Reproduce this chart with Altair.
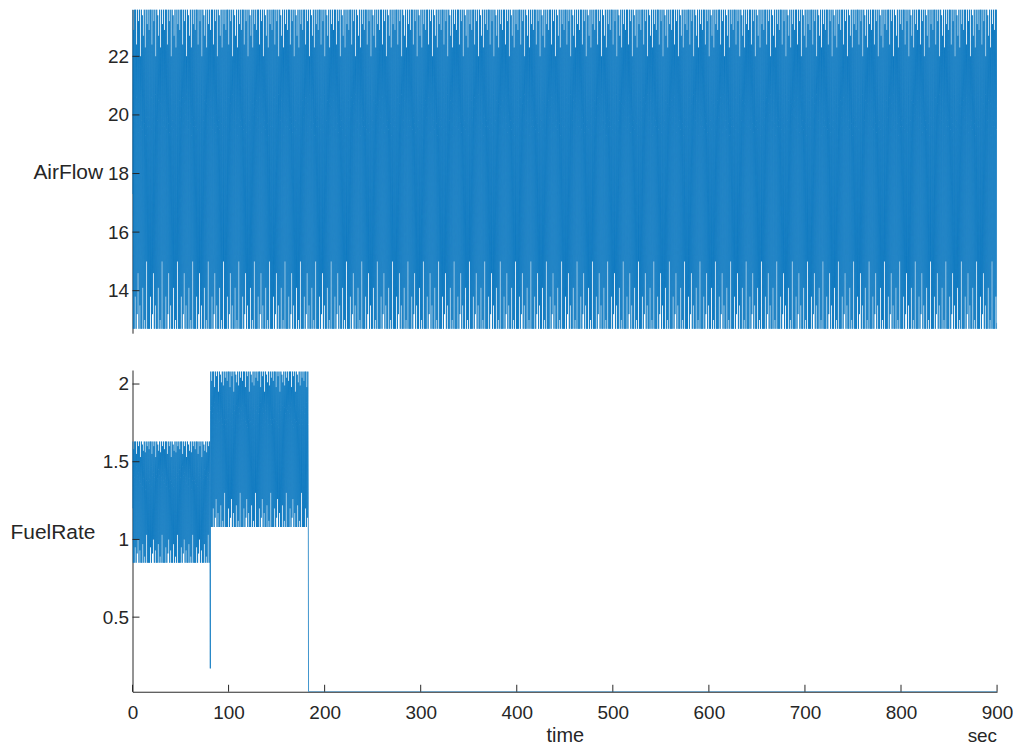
import altair as alt
import pandas as pd

# ---------------- data ----------------
TIME_STEP = 0.25          # s between samples (4 samples per ~1 s cycle)
T_END = 900

AIR_START = 17.3
AIR_END = 12.9
AIR_N_CYCLES = 900
# one cycle = [level above 20, peak, level below 20, dip]
AIR_CYCLES = [
    [20.2, 23.6, 19.8, 12.7], [20.5, 22.9, 19.6, 12.7],
    [19.9, 23.6, 20.1, 13.8], [20.3, 23.6, 19.5, 12.7],
    [20.6, 22.4, 19.9, 13.2], [20.1, 23.6, 19.7, 14.6],
    [20.4, 23.2, 19.4, 12.7], [20.0, 23.6, 20.0, 13.5],
    [20.7, 22.0, 19.6, 12.7], [20.2, 23.6, 19.8, 12.7],
    [19.8, 23.4, 19.5, 14.1], [20.5, 22.7, 20.1, 12.7],
    [20.1, 23.6, 19.7, 13.0], [20.4, 22.3, 19.3, 12.7],
    [20.0, 23.6, 19.9, 15.0], [20.3, 23.1, 19.6, 12.7],
]

FUEL_START = 1.2
FUEL_N_LOW = 81
FUEL_CYCLES_LOW = [
    [1.42, 1.63, 1.38, 0.85], [1.45, 1.58, 1.36, 0.85],
    [1.40, 1.63, 1.39, 0.95], [1.44, 1.63, 1.34, 0.85],
    [1.47, 1.55, 1.37, 0.91], [1.41, 1.63, 1.35, 1.00],
    [1.43, 1.60, 1.33, 0.85], [1.40, 1.63, 1.38, 0.93],
    [1.46, 1.53, 1.36, 0.85], [1.42, 1.63, 1.37, 0.85],
    [1.39, 1.61, 1.34, 0.97], [1.45, 1.57, 1.39, 0.85],
    [1.41, 1.63, 1.35, 0.89], [1.44, 1.56, 1.32, 0.85],
    [1.40, 1.63, 1.38, 1.03], [1.43, 1.60, 1.35, 0.85],
]
FUEL_DIP = 0.17
FUEL_N_HIGH = 102
FUEL_CYCLES_HIGH = [
    [1.83, 2.08, 1.77, 1.08], [1.86, 2.02, 1.75, 1.08],
    [1.81, 2.08, 1.78, 1.20], [1.85, 2.08, 1.73, 1.08],
    [1.88, 1.98, 1.76, 1.14], [1.82, 2.08, 1.74, 1.26],
    [1.84, 2.05, 1.72, 1.08], [1.81, 2.08, 1.77, 1.17],
    [1.87, 1.95, 1.75, 1.08], [1.83, 2.08, 1.76, 1.08],
    [1.80, 2.06, 1.73, 1.22], [1.86, 2.01, 1.78, 1.08],
    [1.82, 2.08, 1.74, 1.12], [1.85, 1.99, 1.71, 1.08],
    [1.81, 2.08, 1.77, 1.30], [1.84, 2.04, 1.74, 1.08],
]
FUEL_OFF = 0.02

X_TICKS = [0, 100, 200, 300, 400, 500, 600, 700, 800, 900]
AIR_TICKS = [14, 16, 18, 20, 22]
FUEL_TICKS = [0.5, 1, 1.5, 2]

# ---------------- build tables ----------------
air_vals = []
for c in range(AIR_N_CYCLES):
    air_vals.extend(AIR_CYCLES[c % len(AIR_CYCLES)])
air_vals[0] = AIR_START
air_t = [k * TIME_STEP for k in range(len(air_vals))]
air_t.append(T_END)
air_vals.append(AIR_END)
air_df = pd.DataFrame({"t": air_t, "v": air_vals})

fuel_vals = []
for c in range(FUEL_N_LOW):
    fuel_vals.extend(FUEL_CYCLES_LOW[c % len(FUEL_CYCLES_LOW)])
fuel_vals[0] = FUEL_START
fuel_vals.append(FUEL_DIP)
for c in range(FUEL_N_HIGH):
    fuel_vals.extend(FUEL_CYCLES_HIGH[c % len(FUEL_CYCLES_HIGH)])
fuel_vals.append(FUEL_OFF)
fuel_t = [k * TIME_STEP for k in range(len(fuel_vals))]
fuel_t.append(T_END)
fuel_vals.append(FUEL_OFF)
fuel_df = pd.DataFrame({"t": fuel_t, "v": fuel_vals})

# ---------------- styling ----------------
W, H = 868, 685
AIR_RANGE = [325, 0]
FUEL_RANGE = [685, 362]
BLUE = "#0072BD"
INK = "#262626"
FONT = "Liberation Sans"
LINE_W = 0.75

xscale = alt.Scale(domain=[0, 900], nice=False, zero=False)
xaxis = alt.Axis(values=X_TICKS, title="time", ticks=False, tickSize=0,
                 labelPadding=12, titlePadding=3, labelFontSize=19,
                 titleFontSize=20, titleFontWeight="normal", format="d",
                 labelFlush=False, labelOverlap=False, grid=False,
                 domainColor=INK, labelColor=INK, titleColor=INK,
                 labelFont=FONT, titleFont=FONT)

air_scale = alt.Scale(domain=[12.55, 23.6], range=AIR_RANGE, nice=False, zero=False)
fuel_scale = alt.Scale(domain=[0.02, 2.09], range=FUEL_RANGE, nice=False, zero=False)


def yaxis(title, ticks, tx, ty):
    return alt.Axis(orient="left", values=ticks, title=title, titleAngle=0,
                    titleAlign="left", titleBaseline="middle", titleX=tx, titleY=ty,
                    ticks=False, tickSize=0, labelPadding=4, labelFontSize=19,
                    titleFontSize=21, titleFontWeight="normal", format="~g",
                    grid=False, domainColor=INK, labelColor=INK, titleColor=INK,
                    labelFont=FONT, titleFont=FONT, labelOverlap=False)


x_enc = alt.X("t:Q", scale=xscale, axis=xaxis)

air_line = alt.Chart(air_df).mark_line(color=BLUE, strokeWidth=LINE_W, clip=True).encode(
    x=x_enc,
    y=alt.Y("v:Q", scale=air_scale, axis=yaxis("AirFlow", AIR_TICKS, -100, 164)),
)
fuel_line = alt.Chart(fuel_df).mark_line(color=BLUE, strokeWidth=LINE_W, clip=True).encode(
    x=x_enc,
    y=alt.Y("v:Q", scale=fuel_scale, axis=yaxis("FuelRate", FUEL_TICKS, -123, 525)),
)

air_ticks = alt.Chart(pd.DataFrame({"v": AIR_TICKS})).mark_rule(color=INK, strokeWidth=1).encode(
    y=alt.Y("v:Q", scale=air_scale, axis=None), x=alt.value(0), x2=alt.value(7)
)
fuel_ticks = alt.Chart(pd.DataFrame({"v": FUEL_TICKS})).mark_rule(color=INK, strokeWidth=1).encode(
    y=alt.Y("v:Q", scale=fuel_scale, axis=None), x=alt.value(0), x2=alt.value(7)
)
x_ticks = alt.Chart(pd.DataFrame({"t": X_TICKS})).mark_rule(color=INK, strokeWidth=1).encode(
    x=x_enc, y=alt.value(H), y2=alt.value(H - 7)
)
sec_text = alt.Chart(pd.DataFrame({"t": [900], "label": ["sec"]})).mark_text(
    align="right", baseline="middle", fontSize=19, font=FONT, color=INK
).encode(x=x_enc, y=alt.value(729), text="label:N")

chart = alt.layer(
    air_line, fuel_line, air_ticks, fuel_ticks, x_ticks, sec_text
).resolve_scale(y="independent").properties(
    width=W, height=H,
    padding={"left": 2, "top": 0, "right": 0, "bottom": 0},
).configure_view(stroke=None)

chart.save("out.html", embed_options={"renderer": "svg", "actions": False})
